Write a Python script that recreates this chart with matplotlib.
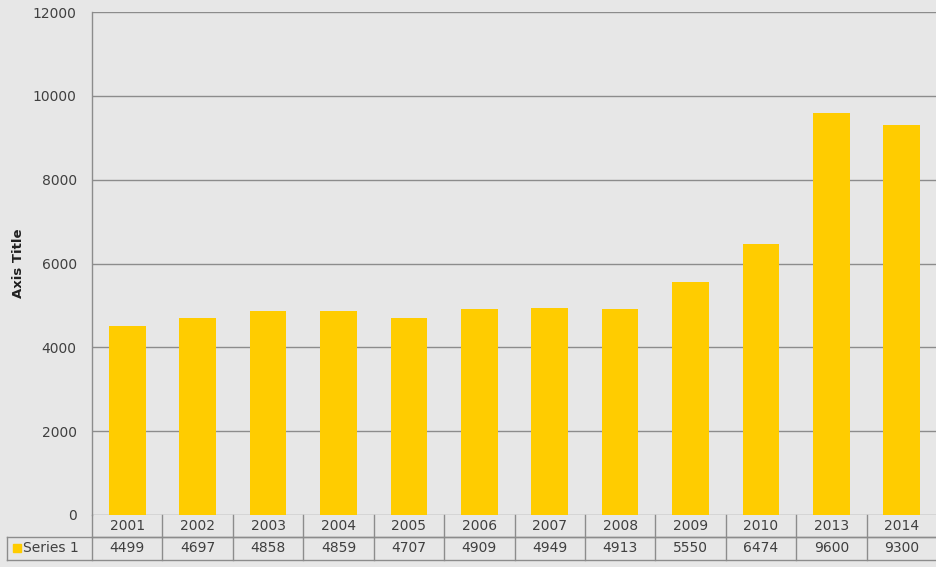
import matplotlib
matplotlib.use("Agg")
import matplotlib.pyplot as plt
from matplotlib.patches import Rectangle
from matplotlib.lines import Line2D

years = ["2001", "2002", "2003", "2004", "2005", "2006", "2007",
         "2008", "2009", "2010", "2013", "2014"]
series1 = [4499, 4697, 4858, 4859, 4707, 4909, 4949, 4913, 5550, 6474, 9600, 9300]
yticks = [0, 2000, 4000, 6000, 8000, 10000, 12000]
series_name = "Series 1"

W, H = 937, 567
bg = "#e7e7e7"
bar_color = "#ffcc00"
grid_color = "#8c8c8c"
text_color = "#404040"
font = "DejaVu Sans"
fs = 10

fig = plt.figure(figsize=(W / 100, H / 100), dpi=100, facecolor=bg)
left, right, top, bottom = 92, 937, 12, 515
ax = fig.add_axes([left / W, (H - bottom) / H, (right - left) / W, (bottom - top) / H])
ax.set_facecolor(bg)

n = len(years)
xs = list(range(n))
ax.bar(xs, series1, width=0.52, color=bar_color, zorder=3)
ax.set_xlim(-0.5, n - 0.5)
ax.set_ylim(0, 12000)
ax.set_yticks(yticks)
ax.set_yticklabels([str(v) for v in yticks], fontsize=fs, color=text_color, family=font)
ax.tick_params(axis="y", length=0, pad=11)
ax.tick_params(axis="x", length=0, labelbottom=False)
ax.grid(axis="y", color=grid_color, linewidth=1.0, zorder=1)
for s in ["top", "right", "bottom"]:
    ax.spines[s].set_visible(False)
ax.spines["left"].set_color(grid_color)
ax.spines["left"].set_linewidth(1.0)

# Axis title placed near the left edge of the figure
fig.text(18 / W, 1 - 263 / H, "Axis Title", rotation=90, ha="center", va="center",
         fontsize=9.5, fontweight="bold", color="#202020", family=font)

# Data table below the plot area
row_h = 22.3 / (bottom - top)
tr = ax.get_xaxis_transform()
col_px = (right - left) / n
series_left = -0.5 - (left - 7) / col_px
line_kw = dict(color=grid_color, linewidth=1.0, transform=tr, clip_on=False)

# horizontal lines
ax.add_line(Line2D([-0.5, n - 0.5], [-row_h, -row_h], **line_kw))
ax.add_line(Line2D([series_left, n - 0.5], [-row_h, -row_h], **line_kw))
ax.add_line(Line2D([series_left, n - 0.5], [-2 * row_h, -2 * row_h], **line_kw))
# vertical lines
for i in range(n + 1):
    ax.add_line(Line2D([i - 0.5, i - 0.5], [0, -2 * row_h], **line_kw))
ax.add_line(Line2D([series_left, series_left], [-row_h, -2 * row_h], **line_kw))

for i, (yr, v) in enumerate(zip(years, series1)):
    ax.text(i, -row_h / 2, yr, ha="center", va="center", fontsize=fs,
            color=text_color, family=font, transform=tr)
    ax.text(i, -1.5 * row_h, str(v), ha="center", va="center", fontsize=fs,
            color=text_color, family=font, transform=tr)

# legend key in the series header cell
key_x = series_left + 6 / col_px
ax.add_patch(Rectangle((key_x, -1.5 * row_h - 4 / (bottom - top)), 8 / col_px,
                       8 / (bottom - top), color=bar_color, transform=tr, clip_on=False))
ax.text(key_x + 10 / col_px, -1.5 * row_h, series_name, ha="left", va="center",
        fontsize=fs, color=text_color, family=font, transform=tr)

fig.savefig("out.png", dpi=100, facecolor=bg)
